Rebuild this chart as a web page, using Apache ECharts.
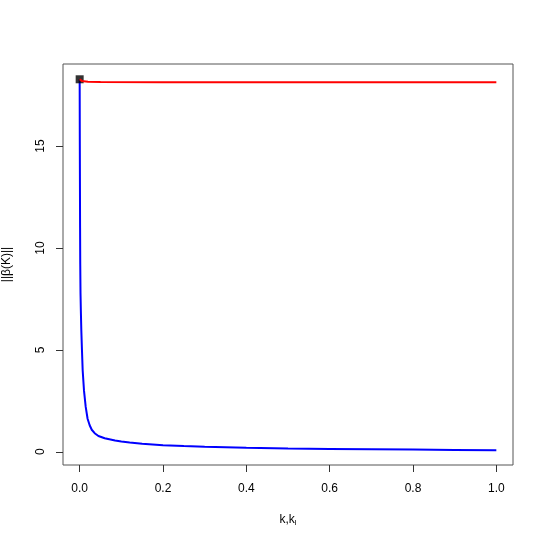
<!DOCTYPE html>
<html>
<head>
<meta charset="utf-8">
<script src="https://cdn.jsdelivr.net/npm/echarts@6/dist/echarts.min.js"></script>
<style>
html, body { margin: 0; padding: 0; background: #fff; }
#chart { width: 545px; height: 545px; }
</style>
</head>
<body>
<div id="chart"></div>
<script>
// ridge trace: norm of beta against k
var kBlue = [0, 0.0003, 0.0006, 0.001, 0.0014, 0.002, 0.003, 0.0039, 0.0055, 0.0072, 0.0104, 0.0145, 0.019, 0.024, 0.029, 0.036, 0.045, 0.06, 0.085, 0.1, 0.12, 0.15, 0.2, 0.25, 0.3, 0.4, 0.5, 0.6, 0.7, 0.8, 0.9, 1.0];
var normBlue = [18.28, 15.5, 13.5, 11, 9.2, 7.8, 6.8, 6.0, 5.0, 4.0, 3.0, 2.2, 1.62, 1.30, 1.08, 0.91, 0.77, 0.66, 0.55, 0.50, 0.45, 0.39, 0.32, 0.28, 0.245, 0.195, 0.16, 0.14, 0.12, 0.105, 0.09, 0.075];
var kRed = [0, 0.005, 0.02, 0.05, 0.2, 0.5, 1.0];
var normRed = [18.28, 18.2, 18.16, 18.15, 18.14, 18.13, 18.13];
var startPoint = [[0, 18.28]];
var xTicks = [0, 0.2, 0.4, 0.6, 0.8, 1.0];
var yTicks = [0, 5, 10, 15];

function pairs(xs, ys) {
    var out = [];
    for (var i = 0; i < xs.length; i++) {
        out.push([xs[i], ys[i]]);
    }
    return out;
}

var myChart = echarts.init(document.getElementById("chart"));

var font = "Liberation Sans, Arial, sans-serif";

var option = {
    animation: false,
    grid: {
        show: true,
        left: 63,
        right: 32,
        top: 64,
        bottom: 80,
        outerBoundsMode: 'none',
        containLabel: false,
        borderColor: "#555",
        borderWidth: 1
    },
    xAxis: {
        type: 'value',
        min: -0.04,
        max: 1.04,
        name: '{n|k,k}{s|l}',
        nameLocation: 'middle',
        nameGap: 48,
        nameTextStyle: {
            rich: {
                n: { fontSize: 12, color: '#000', fontFamily: font },
                s: { fontSize: 8, color: '#000', fontFamily: font, verticalAlign: 'bottom', padding: [6, 0, 0, 0] }
            }
        },
        splitLine: { show: false },
        axisLine: { show: false, onZero: false },
        axisTick: {
            show: true,
            length: 7,
            customValues: xTicks,
            lineStyle: { color: '#333' }
        },
        axisLabel: {
            customValues: xTicks,
            margin: 18,
            color: '#000',
            fontSize: 12,
            fontFamily: font,
            formatter: function(v) { return v.toFixed(1); }
        }
    },
    yAxis: {
        type: 'value',
        min: -0.65,
        max: 19.03,
        name: '||β(K)||',
        nameLocation: 'middle',
        nameGap: 50,
        nameRotate: 90,
        nameTextStyle: { color: '#000', fontSize: 12, fontFamily: font },
        splitLine: { show: false },
        axisLine: { show: false, onZero: false },
        axisTick: {
            show: true,
            length: 7,
            customValues: yTicks,
            lineStyle: { color: '#333' }
        },
        axisLabel: {
            customValues: yTicks,
            rotate: 90,
            margin: 16,
            color: '#000',
            fontSize: 12,
            fontFamily: font
        }
    },
    series: [{
        type: 'line',
        data: pairs(kBlue, normBlue),
        showSymbol: false,
        smooth: false,
        lineStyle: { color: '#0000ff', width: 2 },
        z: 2
    }, {
        type: 'scatter',
        data: startPoint,
        symbol: 'rect',
        symbolSize: 8,
        itemStyle: { color: '#000' },
        z: 3
    }, {
        type: 'line',
        data: pairs(kRed, normRed),
        showSymbol: false,
        lineStyle: { color: '#ff0000', width: 2 },
        z: 4
    }]
};

myChart.setOption(option);
</script>
</body>
</html>
